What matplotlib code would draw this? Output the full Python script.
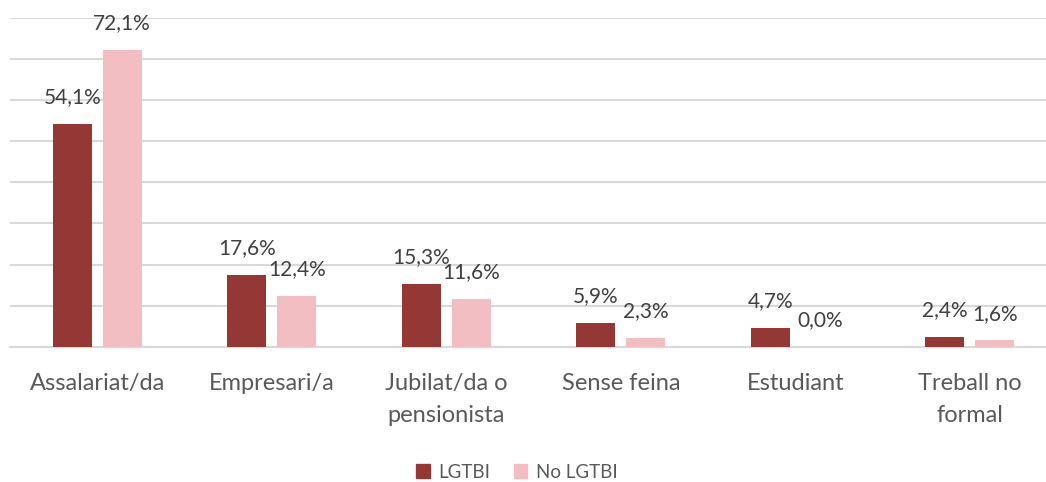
import numpy as np
import matplotlib
matplotlib.use('Agg')
import matplotlib.pyplot as plt
from matplotlib.patches import Patch

plt.rcParams['font.family'] = ['Lato', 'DejaVu Sans']

categories = ['Assalariat/da', 'Empresari/a', 'Jubilat/da o\npensionista',
              'Sense feina', 'Estudiant', 'Treball no\nformal']
lgtbi = [54.1, 17.6, 15.3, 5.9, 4.7, 2.4]
no_lgtbi = [72.1, 12.4, 11.6, 2.3, 0.0, 1.6]
series_names = ['LGTBI', 'No LGTBI']

dark = '#953735'
pink = '#F2BEC1'

W, H = 1046, 482
fig = plt.figure(figsize=(W / 100, H / 100), dpi=100)
ax = fig.add_axes([10 / W, (H - 347) / H, 1047 / W, 329.5 / H])

x = np.arange(len(categories))
bw = 0.2235
off = 0.143
b1 = ax.bar(x - off, lgtbi, bw, color=dark, zorder=3)
b2 = ax.bar(x + off, no_lgtbi, bw, color=pink, zorder=3)

for bars, vals in ((b1, lgtbi), (b2, no_lgtbi)):
    for r, v in zip(bars, vals):
        ax.annotate(f'{v:.1f}%'.replace('.', ','),
                    (r.get_x() + r.get_width() / 2, r.get_height()),
                    xytext=(0, 12), textcoords='offset points',
                    ha='center', va='bottom', fontsize=15, color='#404040')

ax.set_xlim(-0.5, len(categories) - 0.5)
ax.set_ylim(0, 80)
ax.set_yticks(np.arange(0, 81, 10))
ax.yaxis.grid(True, color='#D9D9D9', linewidth=1.5, zorder=0)
ax.tick_params(axis='y', left=False, labelleft=False)
ax.tick_params(axis='x', length=0, labelbottom=False)
ax.set_xticks(x)

# category labels drawn by hand so the line spacing can be set
for xi, cat in zip(x, categories):
    ax.annotate(cat, (xi, 0), xycoords=('data', 'axes fraction'),
                xytext=(0, -19), textcoords='offset points',
                ha='center', va='top', fontsize=17, color='#595959',
                linespacing=1.6)

for s in ['top', 'right', 'left']:
    ax.spines[s].set_visible(False)
ax.spines['bottom'].set_color('#D9D9D9')
ax.spines['bottom'].set_linewidth(1.5)

handles = [Patch(color=dark), Patch(color=pink)]
fig.legend(handles, series_names, loc='center', bbox_to_anchor=(517 / W, 1 - 472 / H),
           ncol=2, frameon=False, fontsize=13.5, labelcolor='#595959',
           handlelength=0.7, handleheight=0.7, handletextpad=0.45, columnspacing=1.3)

fig.savefig('out.png', dpi=100)
